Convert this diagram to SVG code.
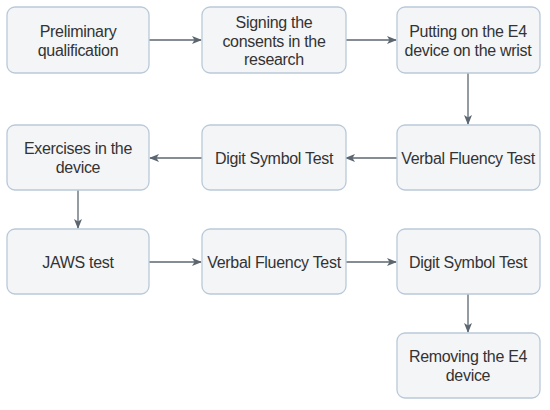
<svg xmlns="http://www.w3.org/2000/svg" width="550" height="410" viewBox="0 0 550 410">
<style>
.box{fill:#f4f5f7;stroke:#b9c9d9;stroke-width:1.3}
.t{font-family:"Liberation Sans",Arial,sans-serif;font-size:16px;fill:#333;text-anchor:middle;letter-spacing:-0.3px}
.c{fill:none;stroke:#5c6670;stroke-width:1.3}
</style>
<defs>
<marker id="ah" viewBox="0 0 10 10" refX="9" refY="5" markerWidth="10" markerHeight="10" markerUnits="userSpaceOnUse" orient="auto">
<path d="M0,1 L10,5 L0,9 L2.5,5 Z" fill="#5c6670"/>
</marker>
</defs>
<rect width="550" height="410" fill="#fff"/>
<g id="connectors">
<path class="c" d="M149,40 H201" marker-end="url(#ah)"/>
<path class="c" d="M346,40 H396" marker-end="url(#ah)"/>
<path class="c" d="M468,73 V124" marker-end="url(#ah)"/>
<path class="c" d="M397,158 H346" marker-end="url(#ah)"/>
<path class="c" d="M202,158 H150" marker-end="url(#ah)"/>
<path class="c" d="M78,190 V228" marker-end="url(#ah)"/>
<path class="c" d="M149,262 H201" marker-end="url(#ah)"/>
<path class="c" d="M346,262 H396" marker-end="url(#ah)"/>
<path class="c" d="M468,294 V332" marker-end="url(#ah)"/>
</g>
<g id="n1"><rect class="box" x="7" y="7" width="142" height="66" rx="8"/><text class="t" x="78" y="37">Preliminary</text><text class="t" x="78" y="56">qualification</text></g>
<g id="n2"><rect class="box" x="202" y="7" width="144" height="66" rx="8"/><text class="t" x="274" y="28">Signing the</text><text class="t" x="274" y="47">consents in the</text><text class="t" x="274" y="65">research</text></g>
<g id="n3"><rect class="box" x="397" y="7" width="143" height="66" rx="8"/><text class="t" x="468" y="37">Putting on the E4</text><text class="t" x="468" y="56">device on the wrist</text></g>
<g id="n4"><rect class="box" x="397" y="125" width="143" height="65" rx="8"/><text class="t" x="468" y="164">Verbal Fluency Test</text></g>
<g id="n5"><rect class="box" x="202" y="125" width="144" height="65" rx="8"/><text class="t" x="274" y="164">Digit Symbol Test</text></g>
<g id="n6"><rect class="box" x="7" y="125" width="142" height="65" rx="8"/><text class="t" x="78" y="154">Exercises in the</text><text class="t" x="78" y="173">device</text></g>
<g id="n7"><rect class="box" x="7" y="229" width="142" height="65" rx="8"/><text class="t" x="78" y="268">JAWS test</text></g>
<g id="n8"><rect class="box" x="202" y="229" width="144" height="65" rx="8"/><text class="t" x="274" y="268">Verbal Fluency Test</text></g>
<g id="n9"><rect class="box" x="397" y="229" width="143" height="65" rx="8"/><text class="t" x="468" y="268">Digit Symbol Test</text></g>
<g id="n10"><rect class="box" x="397" y="333" width="143" height="65" rx="8"/><text class="t" x="468" y="362">Removing the E4</text><text class="t" x="468" y="381">device</text></g>
</svg>
